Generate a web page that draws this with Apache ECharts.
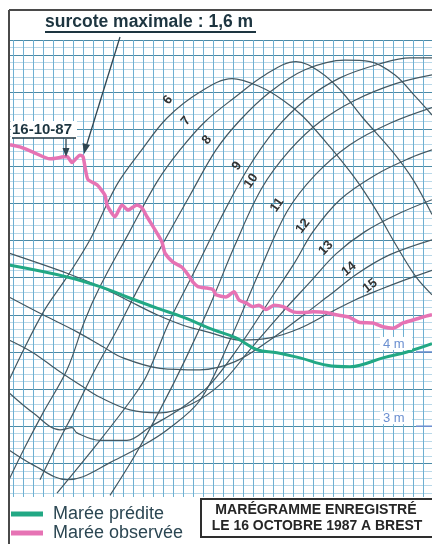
<!DOCTYPE html>
<html><head><meta charset="utf-8">
<script src="https://cdn.jsdelivr.net/npm/echarts@6/dist/echarts.min.js"></script>
<style>html,body{margin:0;padding:0;background:#fff}#c{width:432px;height:544px}</style>
</head><body><div id="c"></div>
<script>
// time in minutes (x), height in metres (y)
const obsTime   = [7,17,30,47,64,69,77,80,82,85,94,102,104,112,119,125,134,139,144,154,159,162,170,179,185,190,195,204,210,213,223,231,236,243,250,256,263,271,280,290,300,310,323,333,346,356,370,380,390,400,410,420,429];
const obsHeight = [6.79,6.76,6.69,6.60,6.63,6.55,6.65,6.63,6.49,6.32,6.25,6.11,5.98,5.82,5.98,5.91,5.98,5.94,5.82,5.60,5.48,5.33,5.21,5.14,5.04,4.94,4.88,4.86,4.84,4.77,4.74,4.81,4.70,4.66,4.61,4.63,4.57,4.63,4.61,4.54,4.53,4.54,4.53,4.50,4.47,4.40,4.39,4.34,4.32,4.39,4.43,4.47,4.50];
const predTime   = [6,64,97,124,154,180,210,233,254,274,297,324,347,357,380,404,429];
const predHeight = [5.17,5.01,4.88,4.74,4.59,4.47,4.30,4.19,4.03,3.99,3.92,3.82,3.80,3.82,3.92,4.00,4.11];

// earlier traces on the same sheet, labelled by day of October
const curve6  = [[6,3.62],[17,3.93],[40,4.53],[64,5.01],[87,5.51],[106,6.05],[117,6.32],[137,6.69],[164,7.15],[197,7.50],[229,7.68],[257,7.57],[280,7.39],[300,7.17],[327,6.76],[353,6.32],[373,5.91],[393,5.44],[413,5.01],[429,4.77]];
const curve7  = [[6,2.28],[22,2.72],[40,3.18],[64,3.76],[82,4.43],[97,4.88],[125,5.58],[154,6.29],[177,6.72],[202,7.10],[232,7.43],[262,7.73],[293,7.91],[317,7.77],[337,7.53],[360,7.15],[390,6.69],[410,6.32],[429,5.85]];
const curve8  = [[37,2.28],[54,2.75],[72,3.22],[92,3.76],[114,4.30],[137,4.90],[162,5.51],[187,6.11],[213,6.72],[237,7.12],[267,7.50],[302,7.80],[342,7.93],[367,7.91],[392,7.73],[413,7.43],[429,7.19]];
const curve9  = [[54,2.10],[97,2.81],[130,3.39],[144,3.69],[167,4.43],[192,5.10],[217,5.78],[244,6.45],[272,6.99],[302,7.39],[337,7.69],[377,7.88],[407,7.96],[429,7.96]];
const curve10 = [[107,2.07],[132,2.61],[157,3.22],[182,3.89],[207,4.63],[232,5.44],[259,6.21],[287,6.72],[317,7.10],[352,7.39],[392,7.61],[429,7.73]];
const curve11 = [[6,2.68],[30,2.48],[64,2.28],[80,2.32],[107,2.51],[137,2.72],[164,2.95],[197,3.35],[227,4.16],[257,5.10],[284,5.89],[312,6.38],[347,6.79],[387,7.08],[429,7.29]];
const curve12 = [[6,3.45],[30,3.18],[57,2.95],[69,2.98],[74,2.91],[97,2.81],[124,2.81],[147,2.99],[180,3.26],[207,3.56],[237,4.09],[267,4.70],[292,5.21],[310,5.62],[337,6.05],[372,6.38],[407,6.61],[429,6.72]];
const curve13 = [[6,4.16],[30,3.99],[54,3.76],[80,3.53],[97,3.39],[127,3.22],[157,3.18],[187,3.29],[217,3.56],[247,4.03],[277,4.50],[307,4.94],[333,5.32],[362,5.62],[397,5.87],[429,6.05]];
const curve14 = [[6,4.74],[40,4.50],[74,4.27],[100,4.07],[120,3.92],[157,3.78],[197,3.76],[232,3.87],[267,4.16],[297,4.46],[327,4.77],[355,5.06],[387,5.31],[429,5.51]];
const curve15 = [[6,5.33],[64,5.06],[97,4.88],[124,4.70],[154,4.50],[180,4.36],[207,4.26],[237,4.16],[267,4.19],[297,4.32],[327,4.53],[352,4.70],[377,4.84],[402,4.97],[429,5.10]];
const traces = [curve6,curve7,curve8,curve9,curve10,curve11,curve12,curve13,curve14,curve15];
const traceDays = ['6','7','8','9','10','11','12','13','14','15'];
const levelTicks = [4,3];
const levelLabels = ['4 m','3 m'];

const chart = echarts.init(document.getElementById('c'), null, {renderer:'canvas'});
const FONT = 'Liberation Sans, Arial, sans-serif';
const series = traces.map(c => ({
  type:'line', data:c, smooth:0.35, symbol:'none', silent:true, z:2,
  lineStyle:{color:'#435862', width:1.2}
}));
series.push({name:'Marée prédite', type:'line', data:predTime.map((t,i)=>[t,predHeight[i]]),
  smooth:0.4, symbol:'none', z:4, lineStyle:{color:'#22a884', width:3}, itemStyle:{color:'#22a884'}});
series.push({name:'Marée observée', type:'line', data:obsTime.map((t,i)=>[t,obsHeight[i]]),
  smooth:0.2, symbol:'none', z:5, lineStyle:{color:'#e673b4', width:3.5}, itemStyle:{color:'#e673b4'}});

chart.setOption({
  backgroundColor:'#ffffff',
  animation:false,
  grid:{left:3, right:0, top:40, bottom:43.5},
  xAxis:{type:'value', min:0, max:429, interval:10, axisLine:{show:false}, axisTick:{show:false}, axisLabel:{show:false},
    splitLine:{show:true, lineStyle:{color:'#6eb0d2', width:1}}},
  yAxis:[
    {type:'value', min:2, max:8.2, interval:0.1, axisLine:{show:false}, axisTick:{show:false}, axisLabel:{show:false},
      splitLine:{show:true, lineStyle:{color:'#b9d8e8', width:1}}},
    {type:'value', min:2, max:8.2, interval:0.5, axisLine:{show:false}, axisTick:{show:false}, axisLabel:{show:false},
      splitLine:{show:true, lineStyle:{color:'#4b8aa6', width:1}}}
  ],
  legend:{data:['Marée prédite','Marée observée'], orient:'vertical', left:11, top:505, height:60, itemWidth:32, itemHeight:5,
    itemGap:1, icon:'rect', z:90, padding:0, textStyle:{fontSize:18, lineHeight:18, padding:[0,0,0,5], color:'#2b4652', fontFamily:FONT}},
  series:series
});

// annotations
const g = [];
g.push({type:'rect', shape:{x:0,y:0,width:9,height:544}, style:{fill:'#fff'}, z:50});
g.push({type:'rect', shape:{x:0,y:0,width:432,height:10}, style:{fill:'#fff'}, z:50});
g.push({type:'line', shape:{x1:9,y1:10,x2:9,y2:544}, style:{stroke:'#4a4a4a', lineWidth:2}, z:60});
g.push({type:'line', shape:{x1:9,y1:10,x2:432,y2:10}, style:{stroke:'#4a4a4a', lineWidth:2}, z:60});
g.push({type:'rect', shape:{x:10,y:11,width:422,height:27}, style:{fill:'#fff'}, z:50});
g.push({type:'text', x:45, y:13, style:{text:'surcote maximale : 1,6 m', font:'bold 17.5px '+FONT, fill:'#1d3540'}, z:70});
g.push({type:'line', shape:{x1:45,y1:32,x2:256,y2:32}, style:{stroke:'#1d3540', lineWidth:1.8}, z:70});
// long arrow
g.push({type:'line', shape:{x1:120,y1:37,x2:86,y2:147}, style:{stroke:'#2f4652', lineWidth:1.3}, z:70});
g.push({type:'polygon', shape:{points:[[84,154],[90,145],[82.5,143]]}, style:{fill:'#2f4652'}, z:70});
// date
g.push({type:'rect', shape:{x:11,y:121,width:66,height:17}, style:{fill:'#fff'}, z:65});
g.push({type:'text', x:12, y:122, style:{text:'16-10-87', font:'bold 15px '+FONT, fill:'#1d3540'}, z:70});
g.push({type:'line', shape:{x1:12,y1:138,x2:76,y2:138}, style:{stroke:'#1d3540', lineWidth:1.5}, z:70});
g.push({type:'line', shape:{x1:66,y1:139,x2:66,y2:150}, style:{stroke:'#2f4652', lineWidth:1.3}, z:70});
g.push({type:'polygon', shape:{points:[[66,157],[62.5,148],[69.5,148]]}, style:{fill:'#2f4652'}, z:70});
// day labels
const labelPos = [[168,100,0.9],[186,121,0.9],[207,140,0.9],[237,166,0.95],[251,181,0.95],[277,205,0.95],[303,226,0.9],[326,248,0.8],[349,269,0.7],[370,286,0.65]];
traceDays.forEach((d,i)=>{
  const p = labelPos[i];
  g.push({type:'text', x:p[0], y:p[1], rotation:p[2], style:{text:d, font:'bold 13px '+FONT, fill:'#333', align:'center', verticalAlign:'middle'}, z:70});
});
// bottom area
g.push({type:'rect', shape:{x:10,y:497,width:422,height:47}, style:{fill:'#fff'}, z:40});
g.push({type:'rect', shape:{x:201,y:499,width:232,height:38}, style:{fill:'#fff', stroke:'#2e2e2e', lineWidth:2}, z:70});
g.push({type:'text', x:316, y:510, scaleX:0.94, style:{text:'MARÉGRAMME ENREGISTRÉ', font:'bold 15px '+FONT, fill:'#262626', align:'center', verticalAlign:'middle'}, z:71});
g.push({type:'text', x:317, y:526, scaleX:0.93, style:{text:'LE 16 OCTOBRE 1987 A BREST', font:'bold 15px '+FONT, fill:'#262626', align:'center', verticalAlign:'middle'}, z:71});
// level labels
levelTicks.forEach((v,i)=>{
  const p = chart.convertToPixel({xAxisIndex:0,yAxisIndex:0},[0,v]);
  g.push({type:'rect', shape:{x:380,y:p[1]-15,width:32,height:13}, style:{fill:'#fff'}, z:30});
  g.push({type:'text', x:383, y:p[1]-8, style:{text:levelLabels[i], font:'13px '+FONT, fill:'#6b8fd0', verticalAlign:'middle'}, z:71});
  g.push({type:'line', shape:{x1:416,y1:p[1],x2:432,y2:p[1]}, style:{stroke:'#6b8fd0', lineWidth:1.5}, z:71});
});
chart.setOption({graphic:g});
</script></body></html>
